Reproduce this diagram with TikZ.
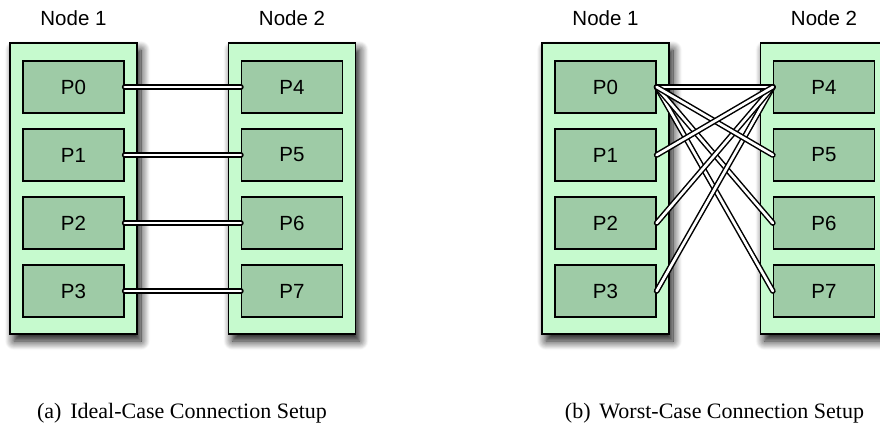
\documentclass[tikz,border=0pt]{standalone}
\usepackage{fontspec}
\setmainfont{Liberation Serif}
\setsansfont{Liberation Sans}
\usetikzlibrary{shadows.blur}
\definecolor{outerg}{RGB}{198,250,206}
\definecolor{innerg}{RGB}{158,203,166}
\tikzset{
  outerbox/.style={draw=black, line width=1.3pt, fill=outerg, inner sep=0pt,
    minimum width=127pt, minimum height=291pt,
    blur shadow={shadow xshift=4pt, shadow yshift=-7pt, shadow blur radius=9pt, shadow blur steps=12, shadow opacity=95}},
  procbox/.style={draw=black, line width=1.3pt, fill=innerg, inner sep=0pt,
    minimum width=101pt, minimum height=52pt,
    font=\sffamily\fontsize{20.5}{24}\selectfont},
  nodelabel/.style={anchor=base, inner sep=0pt, font=\sffamily\fontsize{20.5}{24}\selectfont},
  captionlabel/.style={anchor=base, inner sep=0pt, font=\rmfamily\fontsize{22}{26}\selectfont},
  link/.style={line width=1.5pt, double=white, double distance=2.7pt, line cap=round}
}
\begin{document}
\begin{tikzpicture}[x=1pt, y=-1pt]
\useasboundingbox (0,0) rectangle (880,424);
% ---------- panel (a) ----------
\node[outerbox] (a1) at (73.5,188.5) {};
\node[outerbox] (a2) at (292,188.5) {};
\node[nodelabel] (a1l) at (73.5,25) {Node 1};
\node[nodelabel] (a2l) at (292,25) {Node 2};
\node[procbox] (aP0) at (73.5,87) {P0};
\node[procbox] (aP1) at (73.5,155) {P1};
\node[procbox] (aP2) at (73.5,223) {P2};
\node[procbox] (aP3) at (73.5,291) {P3};
\node[procbox] (aP4) at (292,87) {P4};
\node[procbox] (aP5) at (292,155) {P5};
\node[procbox] (aP6) at (292,223) {P6};
\node[procbox] (aP7) at (292,291) {P7};
\draw[link] (aP0.east) -- (aP4.west);
\draw[link] (aP1.east) -- (aP5.west);
\draw[link] (aP2.east) -- (aP6.west);
\draw[link] (aP3.east) -- (aP7.west);
\node[captionlabel] (capa) at (182,418) {(a)\hspace{0.4em}Ideal-Case Connection Setup};
% ---------- panel (b) ----------
\node[outerbox] (b1) at (605.5,188.5) {};
\node[outerbox] (b2) at (824,188.5) {};
\node[nodelabel] (b1l) at (605.5,25) {Node 1};
\node[nodelabel] (b2l) at (824,25) {Node 2};
\node[procbox] (bP0) at (605.5,87) {P0};
\node[procbox] (bP1) at (605.5,155) {P1};
\node[procbox] (bP2) at (605.5,223) {P2};
\node[procbox] (bP3) at (605.5,291) {P3};
\node[procbox] (bP4) at (824,87) {P4};
\node[procbox] (bP5) at (824,155) {P5};
\node[procbox] (bP6) at (824,223) {P6};
\node[procbox] (bP7) at (824,291) {P7};
\draw[link] (bP0.east) -- (bP4.west);
\draw[link] (bP0.east) -- (bP7.west);
\draw[link] (bP0.east) -- (bP6.west);
\draw[link] (bP3.east) -- (bP4.west);
\draw[link] (bP2.east) -- (bP4.west);
\draw[link] (bP0.east) -- (bP5.west);
\draw[link] (bP1.east) -- (bP4.west);
\node[captionlabel] (capb) at (714.5,418) {(b)\hspace{0.4em}Worst-Case Connection Setup};
\end{tikzpicture}
\end{document}
